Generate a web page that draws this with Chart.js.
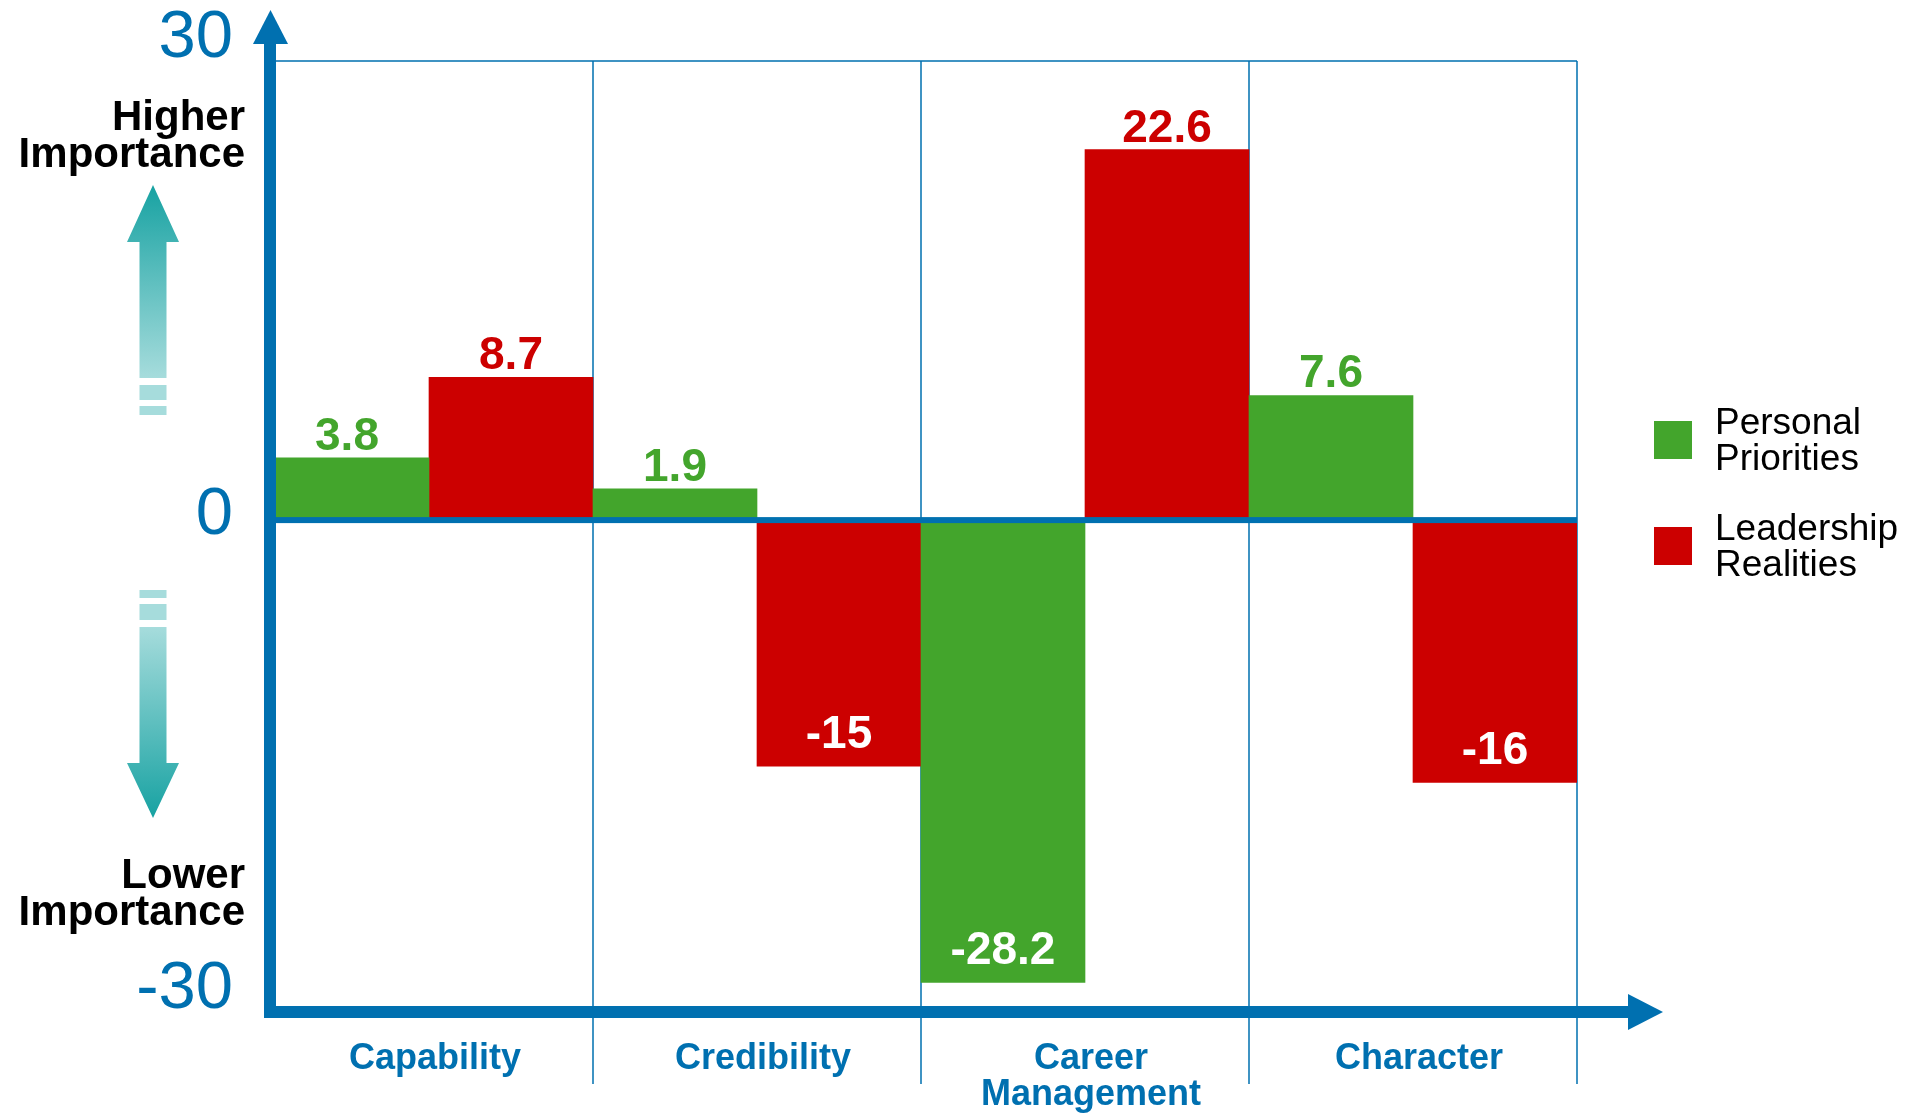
<!DOCTYPE html>
<html>
<head>
<meta charset="utf-8">
<script src="https://cdn.jsdelivr.net/npm/chart.js@4.4.1/dist/chart.umd.min.js"></script>
<style>
  html, body { margin: 0; padding: 0; background: #fff; }
</style>
</head>
<body>
<canvas id="chart" width="1922" height="1113"></canvas>
<script>
const categories = ['Capability', 'Credibility', ['Career', 'Management'], 'Character'];
const personalPriorities = [3.8, 1.9, -28.2, 7.6];
const leadershipRealities = [8.7, -15, 22.6, -16];
const yTickValues = [30, 0, -30];
const legendLines = [['Personal', 'Priorities'], ['Leadership', 'Realities']];

const BLUE = '#0070b0';
const GREEN = '#43a52c';
const RED = '#cc0000';
const FONT = '"Liberation Sans", Arial, sans-serif';

function tealArrow(ctx, tipY, headY, shaftEndY, dashes) {
    const cx = 153, headHalf = 26, shaftHalf = 13.5;
    const g = ctx.createLinearGradient(0, tipY, 0, shaftEndY);
    g.addColorStop(0, '#17a2a2');
    g.addColorStop(1, '#a6dcdc');
    ctx.fillStyle = g;
    ctx.beginPath();
    ctx.moveTo(cx, tipY);
    ctx.lineTo(cx + headHalf, headY);
    ctx.lineTo(cx + shaftHalf, headY);
    ctx.lineTo(cx + shaftHalf, shaftEndY);
    ctx.lineTo(cx - shaftHalf, shaftEndY);
    ctx.lineTo(cx - shaftHalf, headY);
    ctx.lineTo(cx - headHalf, headY);
    ctx.closePath();
    ctx.fill();
    ctx.fillStyle = '#a6dcdc';
    dashes.forEach(d => ctx.fillRect(cx - shaftHalf, d[0], shaftHalf * 2, d[1] - d[0]));
}

const decor = {
    id: 'decor',
    beforeDatasetsDraw(chart) {
        const { ctx, chartArea: a, scales: { x } } = chart;
        ctx.save();
        ctx.strokeStyle = BLUE;
        ctx.lineWidth = 1.5;
        ctx.beginPath();
        ctx.moveTo(a.left, a.top);
        ctx.lineTo(a.right, a.top);
        for (let i = 1; i <= categories.length; i++) {
            const px = x.getPixelForValue(i - 0.5);
            ctx.moveTo(px, a.top);
            ctx.lineTo(px, a.bottom + 72);
        }
        ctx.stroke();
        ctx.restore();
    },
    afterDatasetsDraw(chart) {
        const { ctx, chartArea: a, scales: { y } } = chart;
        ctx.save();

        // zero line
        ctx.fillStyle = BLUE;
        const zy = y.getPixelForValue(0);
        ctx.fillRect(a.left, zy - 3, a.right - a.left, 6);

        // axes with arrow heads
        ctx.fillRect(a.left - 1, a.top - 18, 12, a.bottom + 6 - (a.top - 18));
        ctx.beginPath();
        ctx.moveTo(a.left - 12, a.top - 17);
        ctx.lineTo(a.left + 23, a.top - 17);
        ctx.lineTo(a.left + 5.5, a.top - 51);
        ctx.closePath();
        ctx.fill();
        ctx.fillRect(a.left - 1, a.bottom - 6, a.right + 52 - a.left, 12);
        ctx.beginPath();
        ctx.moveTo(a.right + 51, a.bottom - 18);
        ctx.lineTo(a.right + 51, a.bottom + 18);
        ctx.lineTo(a.right + 86, a.bottom);
        ctx.closePath();
        ctx.fill();

        // y tick labels
        ctx.font = '67px ' + FONT;
        ctx.textAlign = 'right';
        ctx.textBaseline = 'middle';
        yTickValues.forEach(v => {
            const off = v > 0 ? 10 : (v < 0 ? -22 : -5);
            ctx.fillText(String(v), a.left - 32, y.getPixelForValue(v) + off);
        });

        // value labels
        ctx.font = 'bold 46px ' + FONT;
        ctx.textAlign = 'center';
        ctx.textBaseline = 'alphabetic';
        chart.data.datasets.forEach((ds, i) => {
            chart.getDatasetMeta(i).data.forEach((bar, j) => {
                const v = ds.data[j];
                if (v >= 0) {
                    ctx.fillStyle = ds.backgroundColor;
                    ctx.fillText(String(v), bar.x, bar.y - 8);
                } else {
                    ctx.fillStyle = '#ffffff';
                    ctx.fillText(String(v), bar.x, bar.y - 18);
                }
            });
        });

        // side texts
        ctx.fillStyle = '#000';
        ctx.font = 'bold 42px ' + FONT;
        ctx.textAlign = 'right';
        ctx.fillText('Higher', 245, 130);
        ctx.fillText('Importance', 245, 167);
        ctx.fillText('Lower', 245, 888);
        ctx.fillText('Importance', 245, 925);

        tealArrow(ctx, 185, 242, 378, [[385, 400], [406, 415]]);
        tealArrow(ctx, 818, 763, 627, [[604, 620], [590, 598]]);

        // legend
        ctx.textAlign = 'left';
        ctx.font = '37px ' + FONT;
        chart.data.datasets.forEach((ds, i) => {
            const cy = 440 + i * 106;
            ctx.fillStyle = ds.backgroundColor;
            ctx.fillRect(1654, cy - 19, 38, 38);
            ctx.fillStyle = '#000';
            ctx.fillText(legendLines[i][0], 1715, cy - 6);
            ctx.fillText(legendLines[i][1], 1715, cy + 30);
        });
        ctx.restore();
    }
};

new Chart(document.getElementById('chart'), {
    type: 'bar',
    data: {
        labels: categories,
        datasets: [
            { label: 'Personal Priorities', data: personalPriorities, backgroundColor: GREEN },
            { label: 'Leadership Realities', data: leadershipRealities, backgroundColor: RED }
        ]
    },
    options: {
        responsive: false,
        animation: false,
        devicePixelRatio: 1,
        layout: { padding: { left: 265, right: 345, top: 61, bottom: 0 } },
        datasets: { bar: { categoryPercentage: 1, barPercentage: 1, borderWidth: 0 } },
        plugins: { legend: { display: false }, tooltip: { enabled: false } },
        scales: {
            x: {
                grid: { display: false },
                border: { display: false },
                ticks: {
                    color: BLUE,
                    font: { family: FONT, size: 36, weight: 'bold', lineHeight: 1.0 },
                    padding: 21,
                    labelOffset: 6,
                    maxRotation: 0,
                    autoSkip: false
                },
                afterFit(scale) { scale.height = 101; }
            },
            y: {
                display: false,
                min: -30,
                max: 28
            }
        }
    },
    plugins: [decor]
});
</script>
</body>
</html>
